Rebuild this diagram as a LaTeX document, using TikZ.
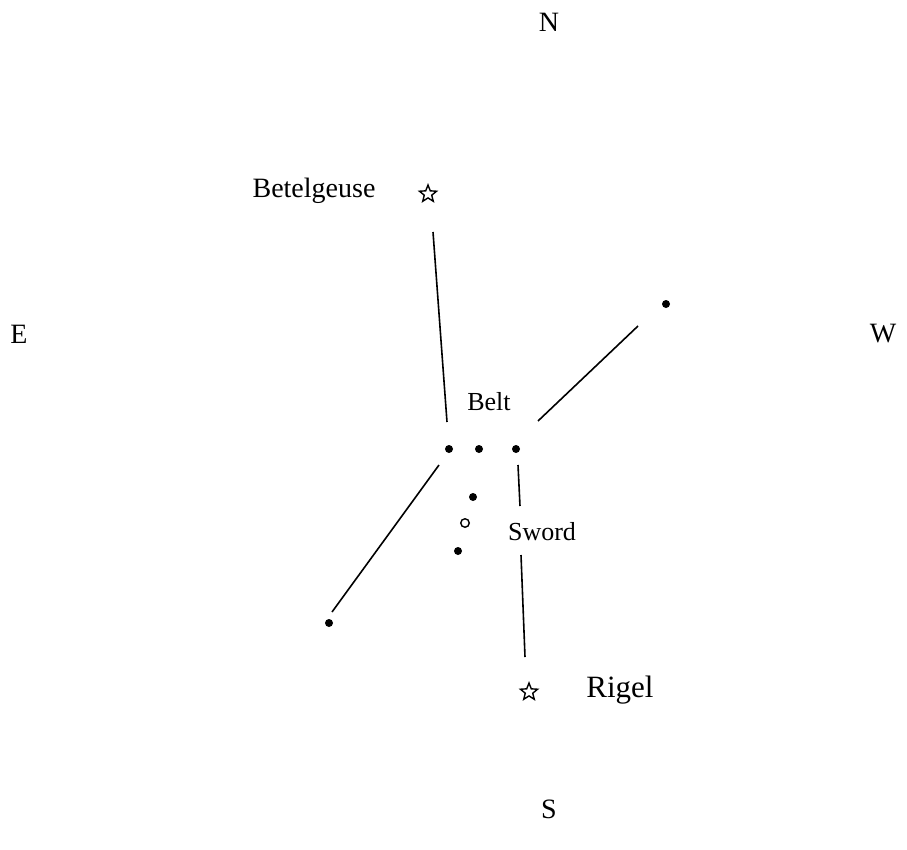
\documentclass[tikz,border=0pt]{standalone}
\usepackage{fontspec}
\setmainfont{Liberation Serif}
\usetikzlibrary{shapes.geometric}
\begin{document}
\begin{tikzpicture}[x=1pt,y=-1pt,
  lbl/.style={inner sep=0pt,font=\fontsize{28}{32}\selectfont},
  slbl/.style={inner sep=0pt,font=\fontsize{26}{30}\selectfont},
  starnode/.style={star,star points=5,star point ratio=2.3,draw,line width=1.4pt,minimum size=18pt,inner sep=0pt},
  fdot/.style={circle,fill,inner sep=0pt,minimum size=8pt},
  odot/.style={circle,draw,line width=1.4pt,inner sep=0pt,minimum size=8.5pt},
  ln/.style={line width=1.6pt}]
\useasboundingbox (0,0) rectangle (907,849);
% compass
\node[lbl] (N) at (549,22) {N};
\node[lbl] (S) at (549,809) {S};
\node[lbl] (E) at (19,334) {E};
\node[lbl] (W) at (883,334) {W};
% labels
\node[lbl] (betl) at (314,191) {Betelgeuse};
\node[lbl,font=\fontsize{31}{35}\selectfont] (rigl) at (620,690) {Rigel};
\node[slbl] (belt) at (489,402) {Belt};
\node[slbl] (sword) at (542,532) {Sword};
% stars
\node[starnode] (bet) at (428,194) {};
\node[starnode] (rig) at (529,692) {};
% dots
\node[fdot] (b1) at (449,449) {};
\node[fdot] (b2) at (479,449) {};
\node[fdot] (b3) at (516,449) {};
\node[fdot] (bel) at (666,304) {};
\node[fdot] (sai) at (329,623) {};
\node[fdot] (s1) at (473,497) {};
\node[odot] (neb) at (465,523) {};
\node[fdot] (s2) at (458,551) {};
% line end coordinates
\coordinate (a1) at (433,232); \coordinate (a2) at (447,422);
\coordinate (c1) at (538,421); \coordinate (c2) at (638,326);
\coordinate (d1) at (439,465); \coordinate (d2) at (332,612);
\coordinate (e1) at (518,465); \coordinate (e2) at (520,506);
\coordinate (f1) at (521,555); \coordinate (f2) at (525,657);
\draw[ln] (a1) -- (a2);
\draw[ln] (c1) -- (c2);
\draw[ln] (d1) -- (d2);
\draw[ln] (e1) -- (e2);
\draw[ln] (f1) -- (f2);
\end{tikzpicture}
\end{document}
